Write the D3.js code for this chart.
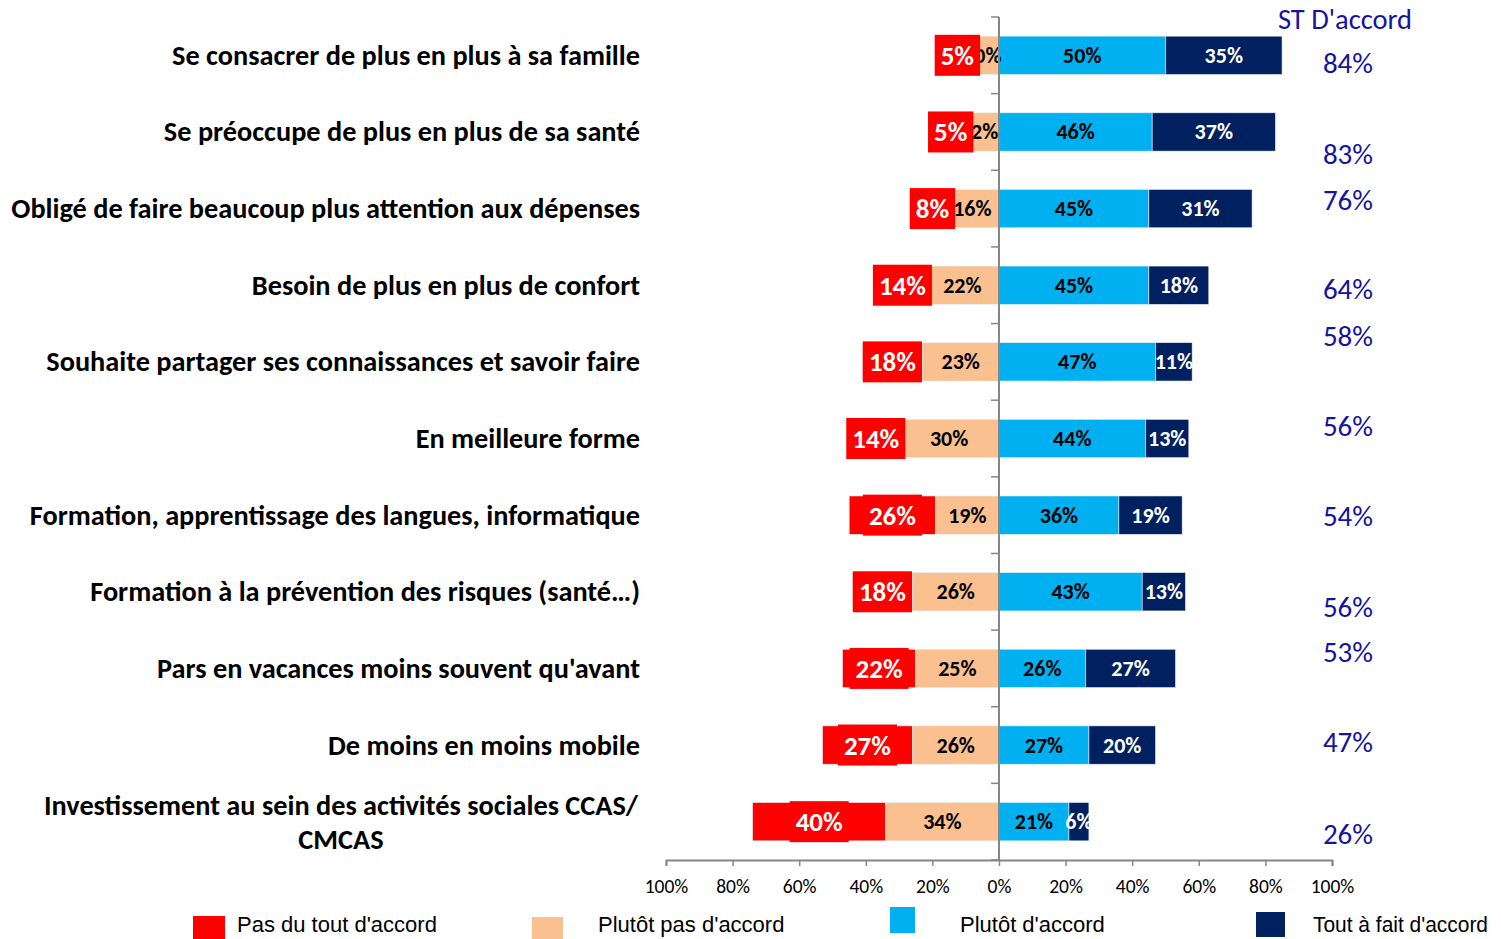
<!DOCTYPE html>
<html><head><meta charset="utf-8">
<script src="https://cdn.jsdelivr.net/npm/d3@7"></script>
<style>
body{margin:0;background:#fff;}
svg{display:block;}
</style></head>
<body>
<svg id="chart" width="1501" height="939"></svg>
<script>
// ---------- DATA ----------
const categories = [
  "Se consacrer de plus en plus à sa famille",
  "Se préoccupe de plus en plus de sa santé",
  "Obligé de faire beaucoup plus attention aux dépenses",
  "Besoin de plus en plus de confort",
  "Souhaite partager ses connaissances et savoir faire",
  "En meilleure forme",
  "Formation, apprentissage des langues, informatique",
  "Formation à la prévention des risques (santé…)",
  "Pars en vacances moins souvent qu'avant",
  "De moins en moins mobile",
  "Investissement au sein des activités sociales CCAS/ CMCAS"
];
const pasDuTout   = [5, 5, 8, 14, 18, 14, 26, 18, 22, 27, 40];
const plutotPas   = [10, 12, 16, 22, 23, 30, 19, 26, 25, 26, 34];
const plutotOui   = [50, 46, 45, 45, 47, 44, 36, 43, 26, 27, 21];
const toutAFait   = [35, 37, 31, 18, 11, 13, 19, 13, 27, 20, 6];
const stAccord    = [84, 83, 76, 64, 58, 56, 54, 56, 53, 47, 26];
const seriesNames = ["Pas du tout d'accord", "Plutôt pas d'accord", "Plutôt d'accord", "Tout à fait d'accord"];
const tickValues  = [-100, -80, -60, -40, -20, 0, 20, 40, 60, 80, 100];
const totalTitle  = "ST D'accord";

// ---------- LAYOUT / STYLE ----------
const colors = ["#FF0000", "#FAC090", "#00B0F0", "#002060"];
const totalNudge = [8, 22, -9, 4, -26, -13, 1, 15, -16, -3, 12]; // vertical offsets of the total labels (px)
const legendLayout = [
  {sx:193, sy:916, sw:32, sh:23, tx:237, maxw:205},
  {sx:532, sy:917, sw:31, sh:22, tx:598, maxw:192},
  {sx:890, sy:907, sw:25, sh:26, tx:960, maxw:150},
  {sx:1256, sy:912, sw:29, sh:25, tx:1313, maxw:175}
];
const FONT = "Carlito, Lato, 'Open Sans', sans-serif";
const CAT_SIZE = 28.3;

const svg = d3.select("#chart");
const x = d3.scaleLinear().domain([-100, 100]).range([666, 1332]);
const y = d3.scaleBand().domain(d3.range(categories.length)).range([17, 860]).paddingInner(0.5).paddingOuter(0.25);

const rows = categories.map((c, i) => ({
  i, c,
  segs: [
    {k:0, x0:-(plutotPas[i] + pasDuTout[i]), x1:-plutotPas[i], v:pasDuTout[i]},
    {k:1, x0:-plutotPas[i], x1:0, v:plutotPas[i]},
    {k:2, x0:0, x1:plutotOui[i], v:plutotOui[i]},
    {k:3, x0:plutotOui[i], x1:plutotOui[i] + toutAFait[i], v:toutAFait[i]}
  ]
}));

// bars
const g = svg.append("g");
rows.forEach(r => {
  g.selectAll(null).data(r.segs).enter().append("rect")
    .attr("x", d => x(d.x0))
    .attr("width", d => x(d.x1) - x(d.x0))
    .attr("y", y(r.i))
    .attr("height", y.bandwidth())
    .attr("fill", d => colors[d.k])
    .attr("stroke", "#e6eef5").attr("stroke-width", 0.6);
});

// zero axis line with ticks at band boundaries
const step = y.step();
svg.append("line").attr("x1", x(0)).attr("x2", x(0)).attr("y1", 17).attr("y2", 860)
  .attr("stroke", "#868686").attr("stroke-width", 2);
svg.selectAll(".ytick").data(d3.range(categories.length + 1)).enter().append("line")
  .attr("x1", x(0) - 8).attr("x2", x(0))
  .attr("y1", d => 17 + d * step).attr("y2", d => 17 + d * step)
  .attr("stroke", "#868686").attr("stroke-width", 1.5);

// inner labels (peach, light blue, dark blue)
rows.forEach(r => {
  g.selectAll(null).data(r.segs.filter(d => d.k > 0)).enter().append("text")
    .attr("x", d => (x(d.x0) + x(d.x1)) / 2)
    .attr("y", y(r.i) + y.bandwidth() / 2)
    .attr("text-anchor", "middle").attr("dominant-baseline", "central")
    .attr("font-family", FONT).attr("font-weight", "bold").attr("font-size", 22)
    .attr("fill", d => d.k === 3 ? "#fff" : "#000")
    .text(d => d.v + "%");
});

// red labels with red filled boxes
rows.forEach(r => {
  const d = r.segs[0];
  const cx = (x(d.x0) + x(d.x1)) / 2, cy = y(r.i) + y.bandwidth() / 2;
  const lg = svg.append("g");
  const t = lg.append("text").attr("x", cx).attr("y", cy)
    .attr("text-anchor", "middle").attr("dominant-baseline", "central")
    .attr("font-family", FONT).attr("font-weight", "bold").attr("font-size", 27)
    .attr("fill", "#fff").text(d.v + "%");
  const w = t.node().getComputedTextLength() + 12;
  lg.insert("rect", "text").attr("x", cx - w / 2).attr("y", cy - 20.5).attr("width", w).attr("height", 41)
    .attr("fill", colors[0]);
});

// x axis
const xAxis = d3.axisBottom(x).tickValues(tickValues).tickSize(6).tickFormat(d => Math.abs(d) + "%");
const ax = svg.append("g").attr("transform", "translate(0,860)").call(xAxis);
ax.select(".domain").attr("stroke", "#868686").attr("stroke-width", 2);
ax.selectAll(".tick line").attr("stroke", "#868686").attr("stroke-width", 1.5);
ax.selectAll(".tick text").attr("font-family", FONT).attr("font-size", 19.5).attr("fill", "#000")
  .attr("dy", null).attr("dominant-baseline", "central").attr("y", 26);

// category labels (wrap if too long, centered when wrapped)
const maxW = 615;
rows.forEach(r => {
  const cy = y(r.i) + y.bandwidth() / 2;
  const t = svg.append("text").attr("font-family", FONT).attr("font-weight", "bold").attr("font-size", CAT_SIZE)
    .attr("fill", "#000").attr("dominant-baseline", "central");
  t.text(r.c);
  if (t.node().getComputedTextLength() <= 645) {
    t.attr("x", 640).attr("y", cy).attr("text-anchor", "end");
  } else {
    const words = r.c.split(" ");
    let line1 = [], line2 = [];
    const probe = svg.append("text").attr("font-family", FONT).attr("font-weight", "bold").attr("font-size", CAT_SIZE);
    for (const wd of words) {
      if (line2.length) { line2.push(wd); continue; }
      probe.text(line1.concat(wd).join(" "));
      if (probe.node().getComputedTextLength() > maxW) line2.push(wd); else line1.push(wd);
    }
    t.text(line1.join(" "));
    const w1 = t.node().getComputedTextLength();
    probe.remove();
    const center = 638 - w1 / 2;
    t.text(null);
    t.attr("text-anchor", "middle");
    t.append("tspan").attr("x", center).attr("y", cy - 17).text(line1.join(" "));
    t.append("tspan").attr("x", center).attr("y", cy + 17).text(line2.join(" "));
  }
});

// ST D'accord totals
const totColor = "#1414a0";
svg.append("text").attr("x", 1345).attr("y", 19).attr("text-anchor", "middle").attr("dominant-baseline", "central")
  .attr("font-family", FONT).attr("font-size", 28.5).attr("fill", totColor).text(totalTitle);
svg.selectAll(".tot").data(stAccord).enter().append("text")
  .attr("x", 1348).attr("y", (d, i) => y(i) + y.bandwidth() / 2 + totalNudge[i])
  .attr("text-anchor", "middle").attr("dominant-baseline", "central")
  .attr("font-family", FONT).attr("font-size", 29).attr("fill", totColor)
  .text(d => d + "%");

// legend
const leg = svg.selectAll(".leg").data(seriesNames).enter().append("g");
leg.append("rect").attr("x", (d, i) => legendLayout[i].sx).attr("y", (d, i) => legendLayout[i].sy)
  .attr("width", (d, i) => legendLayout[i].sw).attr("height", (d, i) => legendLayout[i].sh)
  .attr("fill", (d, i) => colors[i]);
leg.append("text").attr("x", (d, i) => legendLayout[i].tx).attr("y", 924)
  .attr("dominant-baseline", "central")
  .attr("font-family", "'Liberation Sans', Arial, sans-serif").attr("font-size", 22).attr("fill", "#000")
  .text(d => d)
  .each(function(d, i) {
    const w = this.getComputedTextLength();
    if (w > legendLayout[i].maxw) {
      d3.select(this).attr("textLength", legendLayout[i].maxw).attr("lengthAdjust", "spacingAndGlyphs");
    }
  });
</script>
</body></html>
